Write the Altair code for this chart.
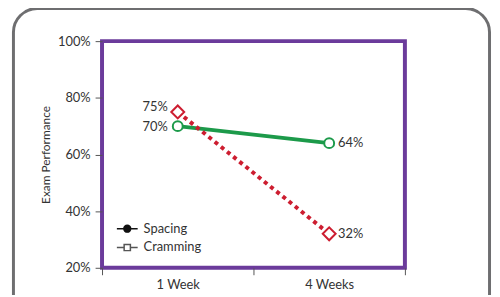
import altair as alt
import pandas as pd

weeks = ["1 Week", "4 Weeks"]
spacing = [70, 64]
cramming = [75, 32]
series_names = ["Spacing", "Cramming"]
y_ticks = [20, 40, 60, 80, 100]

rows = []
for w, v in zip(weeks, spacing):
    rows.append({"week": w, "series": "Spacing", "value": v, "label": f"{v}%"})
for w, v in zip(weeks, cramming):
    rows.append({"week": w, "series": "Cramming", "value": v, "label": f"{v}%"})
df = pd.DataFrame(rows)

FONT = "Lato"
GREEN = "#1c9a4a"
RED = "#cd1d30"
PURPLE = "#6b3b9b"
TXT = "#333333"

x_enc = alt.X("week:N", sort=weeks,
              scale=alt.Scale(type="band", domain=weeks, paddingInner=0, paddingOuter=0),
              axis=alt.Axis(title=None, labelAngle=0, domain=False, tickBand="extent",
                            tickSize=7, tickColor="#555", labelPadding=4,
                            labelFontSize=13, labelColor=TXT, labelFont=FONT))
y_enc = alt.Y("value:Q", scale=alt.Scale(domain=[20, 100], nice=False, zero=False),
              axis=alt.Axis(title="Exam Performance", values=y_ticks, labelExpr="datum.value + '%'",
                            domain=False, grid=False, tickSize=7, tickColor="#555",
                            labelPadding=5, labelFontSize=13, labelColor=TXT, labelFont=FONT,
                            titleFont=FONT, titleFontSize=12, titleFontWeight="normal",
                            titleColor=TXT, titlePadding=5))

base = alt.Chart(df)

frame = alt.Chart(pd.DataFrame({"a": [0]})).mark_rect(
    fill=None, stroke="#6e6e70", strokeWidth=3, cornerRadius=24
).encode(x=alt.value(-89.5), x2=alt.value(391.5), y=alt.value(-33), y2=alt.value(320))

line_s = base.transform_filter("datum.series == 'Spacing'").mark_line(
    color=GREEN, strokeWidth=4).encode(x=x_enc, y=y_enc)
line_c = base.transform_filter("datum.series == 'Cramming'").mark_line(
    color=RED, strokeWidth=4, strokeDash=[4, 4]).encode(x=x_enc, y=y_enc)
pt_s = base.transform_filter("datum.series == 'Spacing'").mark_point(
    shape="circle", size=100, fill="white", stroke=GREEN, strokeWidth=2, opacity=1
).encode(x=x_enc, y=y_enc)
pt_c = base.transform_filter("datum.series == 'Cramming'").mark_point(
    shape="diamond", size=170, fill="white", stroke=RED, strokeWidth=2, opacity=1
).encode(x=x_enc, y=y_enc)

lab_left = base.transform_filter("datum.week == '1 Week' && datum.series == 'Spacing'").mark_text(
    align="right", baseline="middle", dx=-10, dy=1, font=FONT, fontSize=13, color=TXT
).encode(x=x_enc, y=y_enc, text="label:N")
lab_left2 = base.transform_filter("datum.week == '1 Week' && datum.series == 'Cramming'").mark_text(
    align="right", baseline="middle", dx=-10, dy=-5, font=FONT, fontSize=13, color=TXT
).encode(x=x_enc, y=y_enc, text="label:N")
lab_right = base.transform_filter("datum.week == '4 Weeks'").mark_text(
    align="left", baseline="middle", dx=9, dy=0, font=FONT, fontSize=13, color=TXT
).encode(x=x_enc, y=y_enc, text="label:N")

circ_path = "M-1,0H-0.33A0.33,0.33,0,1,1,0.33,0A0.33,0.33,0,1,1,-0.33,0M0.33,0H1"
sq_path = "M-1,0H-0.3M-0.3,-0.3H0.3V0.3H-0.3ZM0.3,0H1"
leg = alt.Legend(title=None, orient="none", legendX=14, legendY=178, labelFont=FONT,
                 labelFontSize=13, labelColor=TXT, symbolSize=441, labelOffset=5,
                 rowPadding=0, symbolStrokeWidth=1.5)
legend_layer = base.transform_filter("datum.value < 0").mark_point(opacity=1, strokeWidth=1.5).encode(
    x=x_enc, y=y_enc,
    shape=alt.Shape("series:N", scale=alt.Scale(domain=series_names, range=[circ_path, sq_path]), legend=leg),
    fill=alt.Fill("series:N", scale=alt.Scale(domain=series_names, range=["#111111", "white"]), legend=leg),
    stroke=alt.Stroke("series:N", scale=alt.Scale(domain=series_names, range=["#111111", "#555555"]), legend=leg),
)

chart = alt.layer(frame, line_s, line_c, pt_s, pt_c, lab_left, lab_left2, lab_right, legend_layer).properties(
    width=306, height=229,
    background="white",
    autosize=alt.AutoSizeParams(type="none"),
    padding={"left": 95, "top": 32, "right": 88, "bottom": 26},
).configure_view(stroke=PURPLE, strokeWidth=4)

chart.save("out.html", embed_options={"renderer": "svg", "actions": False})
